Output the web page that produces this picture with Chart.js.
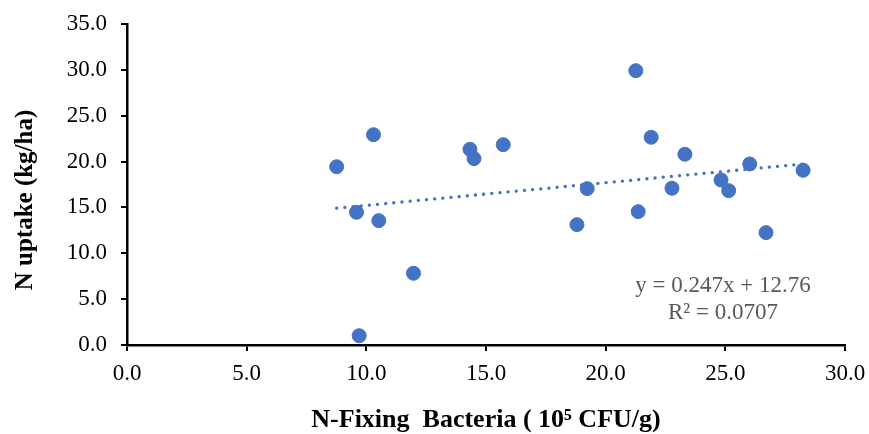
<!DOCTYPE html>
<html>
<head>
<meta charset="utf-8">
<script src="https://cdn.jsdelivr.net/npm/chart.js@4.4.0/dist/chart.umd.min.js"></script>
<style>
  html, body { margin: 0; padding: 0; background: #fff; }
  #wrap { width: 869px; height: 434px; }
</style>
</head>
<body>
<div id="wrap"><canvas id="uptakeChart" width="869" height="434"></canvas></div>
<script>
// values
const bacteria = [8.76, 10.30, 14.33, 14.50, 15.72, 9.59, 10.52, 9.70, 11.97, 21.26, 21.90,
                  23.31, 19.23, 22.77, 21.36, 18.80, 26.02, 24.82, 25.14, 28.25, 26.70];
const uptake = [19.44, 22.93, 21.34, 20.32, 21.84, 14.47, 13.56, 1.01, 7.82, 29.91, 22.65,
                20.80, 17.05, 17.09, 14.54, 13.12, 19.74, 17.99, 16.83, 19.05, 12.25];

// trendline end points (y = 0.247x + 12.76)
const trendX = [8.76, 28.25];
const trendY = [14.92, 19.74];

const eqLines = ['y = 0.247x + 12.76', 'R\u00b2 = 0.0707'];
const xTitle = 'N-Fixing  Bacteria ( 10\u2075 CFU/g)';
const yTitle = 'N uptake (kg/ha)';

const serif = "'Liberation Serif', 'Times New Roman', serif";
const blue = '#4472C4';

const points = bacteria.map((x, i) => ({ x: x, y: uptake[i] }));
const trend = trendX.map((x, i) => ({ x: x, y: trendY[i] }));

// equation text and rotated y title
const textPlugin = {
    id: 'textPlugin',
    afterDraw(chart) {
        const ctx = chart.ctx;
        ctx.save();
        ctx.fillStyle = '#595959';
        ctx.font = '23px ' + serif;
        ctx.textAlign = 'center';
        ctx.textBaseline = 'alphabetic';
        ctx.fillText(eqLines[0], 723, 292);
        ctx.fillText(eqLines[1], 723, 319);

        ctx.fillStyle = '#000';
        ctx.font = 'bold 25px ' + serif;
        ctx.translate(31.5, 200);
        ctx.rotate(-Math.PI / 2);
        ctx.fillText(yTitle, 0, 0);
        ctx.restore();
    }
};

new Chart(document.getElementById('uptakeChart').getContext('2d'), {
    type: 'scatter',
    data: {
        datasets: [
            {
                label: 'N uptake',
                data: points,
                backgroundColor: blue,
                borderColor: blue,
                borderWidth: 1,
                pointRadius: 7,
                pointHoverRadius: 7
            },
            {
                type: 'line',
                label: 'Trend',
                data: trend,
                borderColor: blue,
                borderWidth: 3.3,
                borderDash: [0.1, 8.1],
                borderCapStyle: 'round',
                pointRadius: 0,
                fill: false
            }
        ]
    },
    options: {
        responsive: false,
        animation: false,
        layout: { padding: { top: 24, right: 24, left: 0, bottom: 0 } },
        plugins: {
            legend: { display: false },
            tooltip: { enabled: false }
        },
        scales: {
            x: {
                type: 'linear',
                min: 0,
                max: 30,
                afterFit: (scale) => {
                    scale.height = 89;
                    scale.paddingLeft = 0;
                    scale.paddingRight = 0;
                },
                border: { display: true, color: '#000', width: 2.5 },
                grid: { drawOnChartArea: false, drawTicks: true, tickLength: 6, color: '#000', lineWidth: 2 },
                ticks: {
                    stepSize: 5,
                    padding: 9,
                    color: '#000',
                    font: { family: serif, size: 23 },
                    callback: (v) => v.toFixed(1)
                },
                title: {
                    display: true,
                    text: xTitle,
                    color: '#000',
                    font: { family: serif, size: 26, weight: 'bold', lineHeight: 1 },
                    padding: { top: 0, bottom: 1 }
                }
            },
            y: {
                type: 'linear',
                min: 0,
                max: 35,
                afterFit: (scale) => {
                    scale.width = 127;
                    scale.paddingTop = 0;
                    scale.paddingBottom = 0;
                },
                border: { display: true, color: '#000', width: 2.5 },
                grid: { drawOnChartArea: false, drawTicks: true, tickLength: 6, color: '#000', lineWidth: 2 },
                ticks: {
                    stepSize: 5,
                    padding: 14,
                    color: '#000',
                    font: { family: serif, size: 23 },
                    callback: (v) => v.toFixed(1)
                }
            }
        }
    },
    plugins: [textPlugin]
});
</script>
</body>
</html>
